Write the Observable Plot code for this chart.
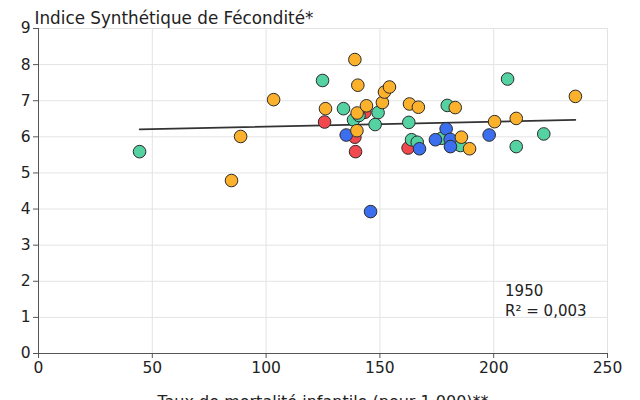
<!DOCTYPE html>
<html>
<head>
<meta charset="utf-8">
<script src="https://cdn.jsdelivr.net/npm/d3@7"></script>
<script src="https://cdn.jsdelivr.net/npm/@observablehq/plot@0.6"></script>
<style>
  html, body { margin: 0; padding: 0; background: #fff; }
</style>
</head>
<body>
<div id="chart"></div>
<script>
// Infant mortality (per 1,000) vs total fertility rate, 1950, one dot per country
const groups = ["rouge", "vert", "bleu", "orange"];
const groupColors = ["#f2484d", "#55d2a2", "#3c6ff0", "#fcb12c"];

const redX = [125.7, 139.0, 139.3, 143.4, 162.4];
const redY = [6.41, 5.99, 5.59, 6.68, 5.69];

const greenX = [44.4, 124.8, 134.0, 138.4, 140.8, 149.2, 147.9, 162.7, 163.9, 166.4, 177.1, 179.6, 185.4, 206.1, 209.9, 222.0];
const greenY = [5.59, 7.56, 6.78, 6.47, 6.59, 6.67, 6.34, 6.40, 5.92, 5.85, 5.96, 6.87, 5.76, 7.60, 5.73, 6.08];

const blueX = [135.2, 145.9, 167.4, 174.4, 179.1, 180.9, 181.0, 198.0];
const blueY = [6.05, 3.93, 5.67, 5.92, 6.22, 5.93, 5.73, 6.05];

const orangeX = [84.8, 88.8, 103.3, 126.1, 139.0, 140.3, 140.0, 139.9, 144.1, 151.1, 152.0, 154.2, 163.0, 166.9, 183.1, 185.8, 189.4, 200.4, 209.9, 235.9];
const orangeY = [4.79, 6.01, 7.03, 6.78, 8.14, 7.43, 6.66, 6.17, 6.86, 6.95, 7.24, 7.38, 6.91, 6.82, 6.81, 5.99, 5.67, 6.42, 6.51, 7.12];

const xTicks = [0, 50, 100, 150, 200, 250];
const yTicks = [0, 1, 2, 3, 4, 5, 6, 7, 8, 9];

const yTitle = "Indice Synthétique de Fécondité*";
const xTitle = "Taux de mortalité infantile (pour 1 000)**";
const notes = ["1950", "R² = 0,003"];

// Build the point table from the per-group arrays (later groups drawn on top)
const seriesX = [redX, greenX, blueX, orangeX];
const seriesY = [redY, greenY, blueY, orangeY];
const points = [];
groups.forEach((g, i) => {
  seriesX[i].forEach((x, j) => points.push({ group: g, x, y: seriesY[i][j] }));
});

const font = "'DejaVu Sans', 'Open Sans', sans-serif";

const chart = Plot.plot({
  width: 640,
  height: 400,
  marginTop: 28,
  marginRight: 33,
  marginBottom: 47,
  marginLeft: 38,
  style: { fontFamily: font, fontSize: "15.5px", color: "#222", background: "#fff" },
  x: { domain: [0, 250], ticks: xTicks, label: null },
  y: { domain: [0, 9], ticks: yTicks, label: null },
  color: { domain: groups, range: groupColors },
  marks: [
    Plot.gridX(xTicks, { stroke: "#e3e3e3", strokeOpacity: 1 }),
    Plot.gridY(yTicks, { stroke: "#e3e3e3", strokeOpacity: 1 }),
    Plot.axisX(xTicks, { tickSize: 5, tickPadding: 3, stroke: "#555", fill: "#222", label: null }),
    Plot.axisY(yTicks, { tickSize: 5, tickPadding: 3, stroke: "#555", fill: "#222", label: null }),
    Plot.ruleX([0], { stroke: "#555" }),
    Plot.ruleY([0], { stroke: "#555" }),
    Plot.linearRegressionY(points, { x: "x", y: "y", ci: 0, stroke: "#333", strokeWidth: 1.6 }),
    Plot.dot(points, { x: "x", y: "y", fill: "group", r: 6.3, stroke: "#2b2b2b", strokeWidth: 1 }),
    Plot.text([notes.join("\n")], {
      x: 205, y: 1.97, text: d => d, textAnchor: "start", lineAnchor: "top",
      fontSize: 15, fill: "#222", lineHeight: 1.3
    }),
    Plot.text([yTitle], {
      frameAnchor: "top-left", text: d => d, textAnchor: "start", lineAnchor: "bottom",
      dx: -4, dy: -5, fontSize: 16.8, fill: "#222"
    }),
    Plot.text([xTitle], {
      frameAnchor: "bottom", text: d => d, lineAnchor: "top",
      dy: 42, fontSize: 16, fill: "#222"
    })
  ]
});

document.getElementById("chart").appendChild(chart);
</script>
</body>
</html>
